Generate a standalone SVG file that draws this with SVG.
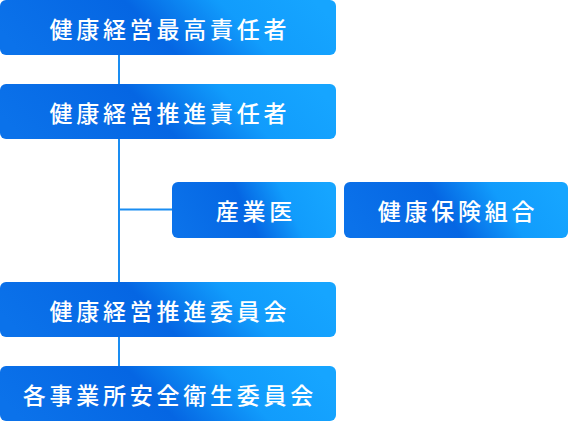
<svg xmlns="http://www.w3.org/2000/svg" width="568" height="422" viewBox="0 0 568 422">
<defs>
<linearGradient id="g" x1="0" y1="0.58" x2="1" y2="0.42">
<stop offset="0" stop-color="#0b72ea"/>
<stop offset="0.45" stop-color="#0566e3"/>
<stop offset="0.72" stop-color="#119cfc"/>
<stop offset="1" stop-color="#16a5ff"/>
</linearGradient>
<style>
.box{fill:url(#g);}
.t{fill:#fff;font-family:"Noto Sans CJK JP","Noto Sans CJK SC",sans-serif;font-size:23px;font-weight:500;letter-spacing:3.75px;text-anchor:middle;dominant-baseline:central;}
.c{stroke:#1a8df2;stroke-width:2;fill:none;}
</style>
</defs>
<g id="connectors">
<line class="c" x1="119" y1="55" x2="119" y2="84"/>
<line class="c" x1="119" y1="139" x2="119" y2="282"/>
<line class="c" x1="119" y1="209.5" x2="172" y2="209.5"/>
<line class="c" x1="119" y1="337" x2="119" y2="366"/>
</g>
<g id="n1"><rect class="box" x="0" y="0" width="336" height="55" rx="6"/><text class="t" x="169.9" y="28">健康経営最高責任者</text></g>
<g id="n2"><rect class="box" x="0" y="84" width="336" height="55" rx="6"/><text class="t" x="169.9" y="112">健康経営推進責任者</text></g>
<g id="n3"><rect class="box" x="172" y="182" width="164" height="56" rx="6"/><text class="t" x="255.9" y="210">産業医</text></g>
<g id="n4"><rect class="box" x="344" y="182" width="224" height="56" rx="6"/><text class="t" x="457.9" y="210">健康保険組合</text></g>
<g id="n5"><rect class="box" x="0" y="282" width="336" height="55" rx="6"/><text class="t" x="169.9" y="310">健康経営推進委員会</text></g>
<g id="n6"><rect class="box" x="0" y="366" width="336" height="55" rx="6"/><text class="t" x="169.9" y="394">各事業所安全衛生委員会</text></g>
</svg>
